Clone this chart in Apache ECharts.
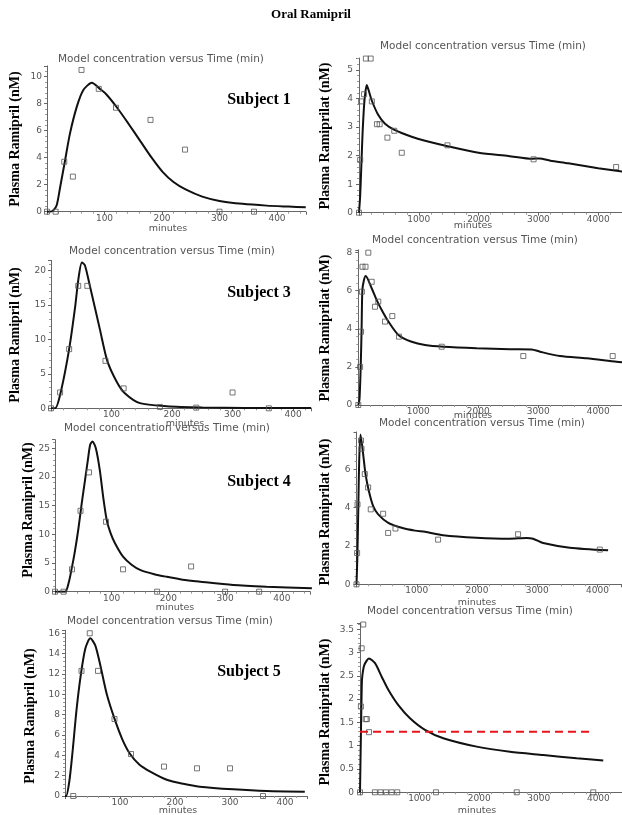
<!DOCTYPE html>
<html><head><meta charset="utf-8">
<script src="https://cdn.jsdelivr.net/npm/echarts@6/dist/echarts.min.js"></script>
<style>html,body{margin:0;padding:0;background:#fff}#c{width:622px;height:815px}</style>
</head><body><div id="c"></div>
<script>
// ---------- DATA ----------
// Subject 1 – Ramipril
const s1RamiprilObsT = [0, 15, 30, 45, 60, 90, 120, 180, 240, 300, 360];
const s1RamiprilObsC = [0, 0, 3.7, 2.6, 10.5, 9.1, 7.7, 6.8, 4.6, 0, 0];
const s1RamiprilModelT = [0, 5, 11, 17, 23, 31, 40, 52, 63, 78, 92, 103, 122, 142, 162, 182, 201, 220, 241, 270, 300, 340, 382, 420, 450];
const s1RamiprilModelC = [0, 0, 0.1, 0.5, 1.85, 3.7, 5.8, 7.8, 9.0, 9.55, 9.1, 8.7, 7.7, 6.5, 5.25, 4.0, 2.95, 2.2, 1.65, 1.12, 0.8, 0.58, 0.45, 0.38, 0.33];
// Subject 1 – Ramiprilat
const s1RamiprilatObsT = [0, 20, 35, 85, 115, 195, 215, 300, 345, 475, 590, 715, 1480, 2920, 4300];
const s1RamiprilatObsC = [0, 1.85, 3.9, 4.15, 5.4, 5.4, 3.9, 3.1, 3.1, 2.63, 2.87, 2.1, 2.36, 1.87, 1.6];
const s1RamiprilatModelT = [0, 20, 40, 60, 80, 100, 129, 160, 212, 323, 435, 602, 881, 1104, 1480, 2000, 2500, 2900, 3020, 3200, 3500, 4000, 4400];
const s1RamiprilatModelC = [0, 0.6, 1.7, 2.8, 3.6, 4.1, 4.47, 4.3, 3.94, 3.42, 3.12, 2.89, 2.66, 2.52, 2.33, 2.1, 1.99, 1.89, 1.9, 1.82, 1.73, 1.56, 1.44];
// Subject 3 – Ramipril
const s3RamiprilObsT = [0, 15, 30, 45, 60, 90, 120, 180, 240, 300, 360];
const s3RamiprilObsC = [0, 2.3, 8.6, 17.8, 17.8, 6.9, 2.9, 0.2, 0.1, 2.3, 0];
const s3RamiprilModelT = [0, 7, 16, 30, 40, 45, 51, 56, 64, 81, 93, 109, 122, 147, 191, 250, 320, 430];
const s3RamiprilModelC = [0, 0, 2.3, 8.6, 14.8, 18.6, 21.2, 20.8, 17.9, 11.4, 6.9, 3.8, 2.2, 0.75, 0.3, 0.12, 0.06, 0.03];
// Subject 3 – Ramiprilat
const s3RamiprilatObsT = [0, 30, 45, 60, 70, 120, 167, 223, 278, 333, 445, 567, 678, 1390, 2750, 4240];
const s3RamiprilatObsC = [0, 2.0, 3.85, 5.95, 7.26, 7.26, 8.0, 6.47, 5.16, 5.43, 4.38, 4.67, 3.59, 3.06, 2.57, 2.57];
const s3RamiprilatModelT = [0, 20, 40, 55, 67, 90, 123, 223, 307, 390, 502, 668, 890, 1112, 1417, 1973, 2528, 2890, 3028, 3362, 3807, 4307, 4400];
const s3RamiprilatModelC = [0, 0.3, 2, 4, 6, 6.5, 6.77, 6.13, 5.51, 4.99, 4.38, 3.68, 3.32, 3.15, 3.06, 2.98, 2.93, 2.92, 2.8, 2.57, 2.45, 2.27, 2.25];
// Subject 4 – Ramipril
const s4RamiprilObsT = [0, 15, 30, 45, 60, 90, 120, 180, 240, 300, 360];
const s4RamiprilObsC = [0, 0, 3.9, 14.1, 20.8, 12.2, 3.9, 0, 4.4, 0, 0];
const s4RamiprilModelT = [0, 18, 24, 29, 35, 41, 47, 53, 58, 62, 66, 72, 79, 85, 91, 98, 106, 120, 135, 150, 175, 197, 225, 256, 314, 373, 453];
const s4RamiprilModelC = [0, 0, 1.5, 3.8, 7.0, 10.8, 15.3, 19.5, 23.0, 25.6, 26.2, 25.0, 21.2, 16.5, 12.6, 10.2, 8.4, 6.1, 4.7, 3.8, 3.05, 2.6, 2.1, 1.75, 1.17, 0.87, 0.59];
// Subject 4 – Ramiprilat
const s4RamiprilatObsT = [0, 10, 17, 75, 83, 138, 193, 237, 442, 525, 647, 1354, 2682, 4038];
const s4RamiprilatObsC = [0, 1.63, 4.17, 7.5, 7.07, 5.75, 5.05, 3.91, 3.68, 2.68, 2.91, 2.33, 2.61, 1.81];
const s4RamiprilatModelT = [0, 15, 30, 45, 67, 110, 150, 205, 277, 360, 527, 750, 972, 1138, 1437, 1992, 2544, 2822, 2930, 3097, 3540, 4176];
const s4RamiprilatModelC = [0, 1.5, 4, 6.5, 7.82, 6.8, 5.75, 4.87, 4.08, 3.65, 3.21, 2.95, 2.8, 2.74, 2.56, 2.43, 2.38, 2.42, 2.38, 2.15, 1.91, 1.77];
// Subject 5 – Ramipril
const s5RamiprilObsT = [15, 30, 45, 60, 90, 120, 180, 240, 300, 360];
const s5RamiprilObsC = [0, 12.3, 16.0, 12.3, 7.57, 4.13, 2.89, 2.72, 2.72, 0];
const s5RamiprilModelT = [0, 2, 8, 14, 21, 29, 37, 46, 55, 64, 76, 90, 104, 118, 135, 155, 185, 215, 245, 306, 367, 436];
const s5RamiprilModelC = [0, 0, 1.5, 4.5, 8.5, 12.0, 14.5, 15.5, 14.8, 12.9, 10.0, 7.6, 5.6, 4.15, 3.1, 2.4, 1.6, 1.2, 0.92, 0.66, 0.49, 0.42];
// Subject 5 – Ramiprilat
const s5RamiprilatObsT = [0, 15, 28, 55, 95, 115, 151, 250, 345, 435, 530, 625, 1275, 2630, 3914];
const s5RamiprilatObsC = [0, 1.84, 3.09, 3.6, 1.57, 1.57, 1.29, 0, 0, 0, 0, 0, 0, 0, 0];
const s5RamiprilatModelT = [0, 15, 30, 39, 72, 151, 252, 364, 475, 643, 839, 1091, 1398, 1958, 2517, 3076, 3636, 4082];
const s5RamiprilatModelC = [0, 1.2, 2.3, 2.5, 2.73, 2.87, 2.77, 2.48, 2.2, 1.87, 1.59, 1.34, 1.16, 0.98, 0.87, 0.8, 0.73, 0.68];
// Threshold line (Subject 5 ramiprilat)
const thresholdT = [0, 3914];
const thresholdC = [1.3, 1.3];

const rightXMax = 4400;

// ---------- LAYOUT ----------
const zip = (t, c) => t.map((v, i) => [v, c[i]]);
const panels = [
  {g:{left:47, top:65.9, width:258.75, height:145.8}, xMax:450, xInt:100, yMax:10.8, yInt:2, m:[s1RamiprilModelT,s1RamiprilModelC], o:[s1RamiprilObsT,s1RamiprilObsC], yLm:5},
  {g:{left:359, top:58, width:263.1, height:154.7}, xMax:rightXMax, xInt:1000, yMax:5.42, yInt:1, m:[s1RamiprilatModelT,s1RamiprilatModelC], o:[s1RamiprilatObsT,s1RamiprilatObsC], yLm:6},
  {g:{left:51, top:260.4, width:260.2, height:147.9}, xMax:430, xInt:100, yMax:21.5, yInt:5, m:[s3RamiprilModelT,s3RamiprilModelC], o:[s3RamiprilObsT,s3RamiprilObsC], yLm:5},
  {g:{left:358.3, top:249.8, width:264, height:155.2}, xMax:rightXMax, xInt:1000, yMax:8.15, yInt:2, m:[s3RamiprilatModelT,s3RamiprilatModelC], o:[s3RamiprilatObsT,s3RamiprilatObsC], yLm:6},
  {g:{left:55, top:439.7, width:255.2, height:152}, xMax:450, xInt:100, yMax:26.5, yInt:5, m:[s4RamiprilModelT,s4RamiprilModelC], o:[s4RamiprilObsT,s4RamiprilObsC], yLm:5},
  {g:{left:356.5, top:431.9, width:265.1, height:152.4}, xMax:rightXMax, xInt:1000, yMax:7.95, yInt:2, m:[s4RamiprilatModelT,s4RamiprilatModelC], o:[s4RamiprilatObsT,s4RamiprilatObsC], yLm:6},
  {g:{left:65, top:630.2, width:242, height:165.8}, xMax:440, xInt:100, yMax:16.3, yInt:2, m:[s5RamiprilModelT,s5RamiprilModelC], o:[s5RamiprilObsT,s5RamiprilObsC], yLm:5},
  {g:{left:360, top:623.1, width:262.2, height:169.2}, xMax:rightXMax, xInt:1000, yMax:3.63, yInt:0.5, m:[s5RamiprilatModelT,s5RamiprilatModelC], o:[s5RamiprilatObsT,s5RamiprilatObsC], yLm:6, thr:true}
];

const SANS = '"DejaVu Sans", sans-serif';
const SERIF = '"Liberation Serif", "Times New Roman", serif';
const axisCol = '#666';
const lblCol = '#555';
const plain = v => String(v);

const grid = [], xAxis = [], yAxis = [], series = [];
panels.forEach((p, i) => {
  grid.push(Object.assign({outerBoundsMode:'none', containLabel:false}, p.g));
  const common = {
    type:'value', gridIndex:i, min:0,
    axisLine:{show:true, onZero:false, lineStyle:{color:axisCol, width:1}},
    axisTick:{show:true, length:3, lineStyle:{color:axisCol}},
    minorTick:{show:true, splitNumber:5, length:2, lineStyle:{color:'#999'}},
    splitLine:{show:false},
    axisLabel:{color:lblCol, fontSize:9, fontFamily:SANS, showMaxLabel:false, formatter:plain}
  };
  xAxis.push(Object.assign({}, common, {max:p.xMax, interval:p.xInt,
    axisLabel:Object.assign({}, common.axisLabel, {showMinLabel:false, margin:2})}));
  yAxis.push(Object.assign({}, common, {max:p.yMax, interval:p.yInt,
    axisLabel:Object.assign({}, common.axisLabel, {margin:p.yLm})}));
  series.push({type:'line', xAxisIndex:i, yAxisIndex:i, data:zip(p.m[0], p.m[1]),
    showSymbol:false, symbol:'none', smooth:0.25,
    lineStyle:{color:'#111', width:2}, z:3, silent:true});
  series.push({type:'scatter', xAxisIndex:i, yAxisIndex:i, data:zip(p.o[0], p.o[1]),
    symbol:'rect', symbolSize:5, clip:false,
    itemStyle:{color:'rgba(255,255,255,0)', borderColor:'#555', borderWidth:1}, z:4, silent:true});
  if (p.thr) {
    series.push({type:'line', xAxisIndex:i, yAxisIndex:i, data:zip(thresholdT, thresholdC),
      symbol:'none', lineStyle:{color:'#e8141c', width:2, type:[8,5]}, z:5, silent:true});
  }
});

const texts = [];
const addText = (x, y, text, font, fill, rot) => texts.push({
  type:'text', x:x, y:y, rotation:rot || 0, silent:true,
  style:{text:text, font:font, fill:fill, textAlign:'center', textVerticalAlign:'middle'}
});
addText(311, 15, 'Oral Ramipril', 'bold 13px ' + SERIF, '#000');
const titleFont = '10.5px ' + SANS;
const titleTxt = 'Model concentration versus Time (min)';
[[161,59],[483,46],[172,251],[475,240],[167,428],[482,423],[170,621.5],[470,611]].forEach(c => addText(c[0], c[1], titleTxt, titleFont, lblCol));
[[168,229],[473,226],[185,424],[473,416],[175,608],[477,603],[178,811],[477,811]].forEach(c => addText(c[0], c[1], 'minutes', '9.5px ' + SANS, lblCol));
const yLblFont = 'bold 14px ' + SERIF;
[[15,139,'Plasma Ramipril (nM)'],[325,136,'Plasma Ramiprilat (nM)'],[15,335,'Plasma Ramipril (nM)'],[325,328,'Plasma Ramiprilat (nM)'],
 [28,510,'Plasma Ramipril (nM)'],[325,512,'Plasma Ramiprilat (nM)'],[30,716,'Plasma Ramipril (nM)'],[325,712,'Plasma Ramiprilat (nM)']]
 .forEach(c => addText(c[0], c[1], c[2], yLblFont, '#000', Math.PI/2));
[[259,100,'Subject 1'],[259,293,'Subject 3'],[259,482,'Subject 4'],[249,672,'Subject 5']]
 .forEach(c => addText(c[0], c[1], c[2], 'bold 16px ' + SERIF, '#000'));

const chart = echarts.init(document.getElementById('c'), null, {renderer:'canvas'});
chart.setOption({animation:false, backgroundColor:'#fff', grid, xAxis, yAxis, series, graphic:{elements:texts}});
</script></body></html>
